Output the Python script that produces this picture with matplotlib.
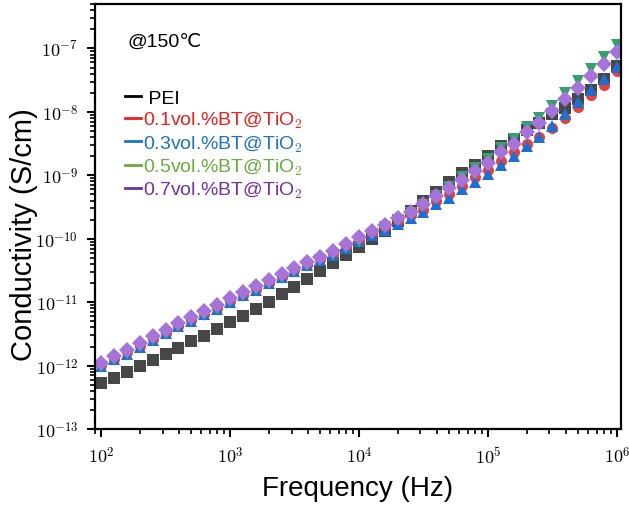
import numpy as np
import matplotlib
matplotlib.use('Agg')
import matplotlib.pyplot as plt
from matplotlib.lines import Line2D
from matplotlib.ticker import LogLocator, FuncFormatter, NullFormatter

plt.rcParams['font.family'] = ['Liberation Sans', 'DejaVu Sans']
plt.rcParams['mathtext.fontset'] = 'cm'

# log10 of frequency (Hz), 10 points per decade
log_freq = [2.0, 2.1, 2.2, 2.3, 2.4, 2.5, 2.6, 2.7, 2.8, 2.9,
            3.0, 3.1, 3.2, 3.3, 3.4, 3.5, 3.6, 3.7, 3.8, 3.9,
            4.0, 4.1, 4.2, 4.3, 4.4, 4.5, 4.6, 4.7, 4.8, 4.9,
            5.0, 5.1, 5.2, 5.3, 5.4, 5.5, 5.6, 5.7, 5.8, 5.9, 6.0]

# log10 of conductivity (S/cm)
pei = [-12.28, -12.20, -12.10, -12.01, -11.91, -11.82, -11.72, -11.61, -11.54, -11.43,
       -11.31, -11.22, -11.11, -11.00, -10.87, -10.76, -10.64, -10.51, -10.39, -10.26,
       -10.13, -10.01, -9.87, -9.72, -9.57, -9.41, -9.27, -9.11, -8.97, -8.84,
       -8.70, -8.54, -8.42, -8.29, -8.17, -8.04, -7.94, -7.79, -7.66, -7.49, -7.28]
bt01 = [-11.99, -11.89, -11.79, -11.69, -11.58, -11.48, -11.37, -11.28, -11.18, -11.09,
        -10.98, -10.88, -10.79, -10.69, -10.60, -10.50, -10.41, -10.32, -10.24, -10.13,
        -10.03, -9.92, -9.82, -9.72, -9.63, -9.54, -9.41, -9.30, -9.17, -9.03,
        -8.91, -8.78, -8.64, -8.51, -8.40, -8.26, -8.10, -7.93, -7.74, -7.57, -7.36]
bt03 = [-12.01, -11.90, -11.81, -11.70, -11.59, -11.49, -11.38, -11.29, -11.19, -11.10,
        -10.99, -10.89, -10.80, -10.70, -10.61, -10.51, -10.42, -10.33, -10.25, -10.14,
        -10.04, -9.94, -9.86, -9.77, -9.68, -9.58, -9.46, -9.35, -9.22, -9.11,
        -8.98, -8.83, -8.70, -8.54, -8.40, -8.23, -8.04, -7.85, -7.66, -7.49, -7.30]
bt05 = [-12.02, -11.91, -11.82, -11.71, -11.60, -11.50, -11.39, -11.30, -11.20, -11.11,
        -11.00, -10.90, -10.81, -10.71, -10.62, -10.52, -10.43, -10.34, -10.26, -10.15,
        -10.05, -9.92, -9.82, -9.71, -9.60, -9.47, -9.33, -9.18, -9.03, -8.89,
        -8.75, -8.57, -8.42, -8.24, -8.09, -7.90, -7.71, -7.52, -7.33, -7.14, -6.95]
bt07 = [-11.96, -11.85, -11.76, -11.65, -11.54, -11.44, -11.33, -11.24, -11.14, -11.05,
        -10.94, -10.84, -10.75, -10.65, -10.56, -10.46, -10.37, -10.28, -10.20, -10.09,
        -9.98, -9.88, -9.79, -9.68, -9.58, -9.46, -9.33, -9.20, -9.08, -8.94,
        -8.80, -8.64, -8.50, -8.32, -8.17, -7.99, -7.80, -7.63, -7.44, -7.24, -7.05]

labels = [' PEI', '0.1vol.%BT@TiO$_\\mathsf{2}$', '0.3vol.%BT@TiO$_\\mathsf{2}$',
          '0.5vol.%BT@TiO$_\\mathsf{2}$', '0.7vol.%BT@TiO$_\\mathsf{2}$']
marker_colors = ['#474747', '#e5413d', '#1f6fd1', '#33a06e', '#a673d9']
text_colors = ['#000000', '#e8201e', '#1e73be', '#6aab3c', '#7331a0']
markers = ['s', 'o', '^', 'v', 'D']
sizes = [8, 8, 9, 9, 8.5]

fig = plt.figure(figsize=(6.29, 5.06), dpi=100)
ax = fig.add_axes([0.151, 0.150, 0.836, 0.840])

freq = 10 ** np.array(log_freq)
for vals, c, m, s in zip([pei, bt01, bt03, bt05, bt07], marker_colors, markers, sizes):
    ax.plot(freq, 10 ** np.array(vals), linestyle='none', marker=m, ms=s,
            color=c, mec=c, mew=0)

ax.set_xscale('log')
ax.set_yscale('log')
ax.set_xlim(10 ** 1.953, 10 ** 6.031)
ax.set_ylim(1e-13, 5e-7)

fmt = FuncFormatter(lambda v, p: r'$\mathrm{10}^{%d}$' % round(np.log10(v)))
ax.xaxis.set_major_locator(LogLocator(base=10, numticks=10))
ax.yaxis.set_major_locator(LogLocator(base=10, numticks=10))
ax.xaxis.set_minor_locator(LogLocator(base=10, subs=np.arange(2, 10), numticks=20))
ax.yaxis.set_minor_locator(LogLocator(base=10, subs=np.arange(2, 10), numticks=20))
ax.xaxis.set_major_formatter(fmt)
ax.yaxis.set_major_formatter(fmt)
ax.xaxis.set_minor_formatter(NullFormatter())
ax.yaxis.set_minor_formatter(NullFormatter())

ax.tick_params(which='major', direction='out', length=6, width=1.5, labelsize=13, pad=6)
ax.tick_params(which='minor', direction='out', length=3.5, width=1.2)
for sp in ax.spines.values():
    sp.set_linewidth(1.6)

ax.set_xlabel('Frequency (Hz)', fontsize=20, labelpad=6)
ax.set_ylabel('Conductivity (S/cm)', fontsize=21)
ax.yaxis.set_label_coords(-0.108, 0.46)

ax.text(0.062, 0.913, '@150\u2103', transform=ax.transAxes, fontsize=14,
        ha='left', va='center')

handles = [Line2D([0], [0], color=c, lw=2) for c in text_colors]
leg = ax.legend(handles, labels, loc='upper left', bbox_to_anchor=(0.058, 0.80),
                frameon=False, fontsize=14, handlelength=0.8, handletextpad=0.1,
                labelspacing=0.16, borderaxespad=0, borderpad=0)
for t, c in zip(leg.get_texts(), text_colors):
    t.set_color(c)

fig.savefig('out.png', dpi=100)
